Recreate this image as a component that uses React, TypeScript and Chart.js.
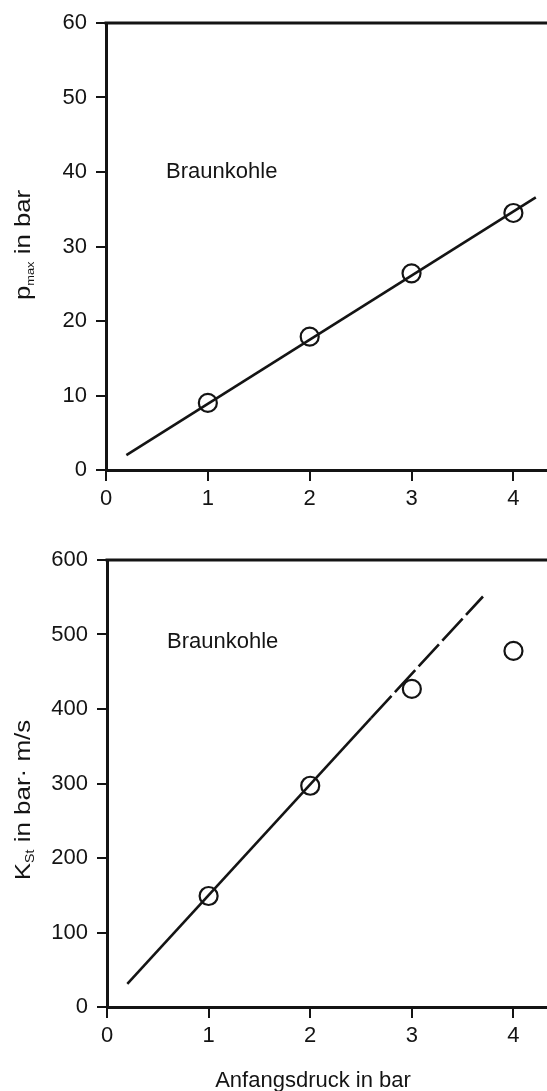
import React, { useEffect, useRef } from 'react';
import { Chart, registerables } from 'chart.js';

Chart.register(...registerables);

// ---------- data ----------
const xTickValues = [0, 1, 2, 3, 4];
const topYTickValues = [0, 10, 20, 30, 40, 50, 60];
const bottomYTickValues = [0, 100, 200, 300, 400, 500, 600];

const anfangsdruck = [1, 2, 3, 4];
const pMax = [9.0, 17.9, 26.4, 34.5];
const kSt = [149, 297, 427, 478];

const pFitX = [0.2, 4.22];
const pFitY = [2.0, 36.6];
const kFitSolidX = [0.2, 2.6];
const kFitSolidY = [31, 388];
const kFitDashedX = [2.6, 3.7];
const kFitDashedY = [388, 551];

const materialLabel = 'Braunkohle';
const xTitle = 'Anfangsdruck in bar';
const topYTitle = [
  { text: 'p', sub: false },
  { text: 'max', sub: true },
  { text: ' in bar', sub: false },
];
const bottomYTitle = [
  { text: 'K', sub: false },
  { text: 'St', sub: true },
  { text: ' in bar\u00B7 m/s', sub: false },
];

const INK = '#141414';
const FONT = '"Liberation Sans", Arial, Helvetica, sans-serif';

const zip = (xs: number[], ys: number[]) => xs.map((x, i) => ({ x, y: ys[i] }));

const extrasPlugin = {
  id: 'extras',
  afterDraw(chart: any, _args: any, opts: any) {
    const ctx = chart.ctx as CanvasRenderingContext2D;
    const { left, right, top } = chart.chartArea;
    const xs = chart.scales.x;
    const ys = chart.scales.y;
    ctx.save();
    // top frame line
    ctx.strokeStyle = INK;
    ctx.lineWidth = 3;
    ctx.beginPath();
    ctx.moveTo(left - 1.5, top);
    ctx.lineTo(right, top);
    ctx.stroke();

    ctx.fillStyle = INK;
    // material label
    if (opts.label) {
      ctx.font = `${opts.labelSize}px ${FONT}`;
      ctx.textAlign = 'left';
      ctx.textBaseline = 'middle';
      ctx.fillText(opts.label.text, xs.getPixelForValue(opts.label.x), ys.getPixelForValue(opts.label.y));
    }
    // y title with subscript, rotated
    if (opts.yTitle) {
      const mainFont = `${opts.titleSize}px ${FONT}`;
      const subFont = `${opts.subSize}px ${FONT}`;
      let total = 0;
      const widths = opts.yTitle.parts.map((p: any) => {
        ctx.font = p.sub ? subFont : mainFont;
        const w = ctx.measureText(p.text).width;
        total += w;
        return w;
      });
      ctx.translate(opts.yTitle.cx, opts.yTitle.cy);
      ctx.rotate(-Math.PI / 2);
      ctx.scale(opts.yTitle.stretch, 1);
      ctx.textAlign = 'left';
      ctx.textBaseline = 'alphabetic';
      let cur = -total / 2;
      opts.yTitle.parts.forEach((p: any, i: number) => {
        ctx.font = p.sub ? subFont : mainFont;
        ctx.fillText(p.text, cur, p.sub ? 8 + opts.subShift : 8);
        cur += widths[i];
      });
      ctx.setTransform(1, 0, 0, 1, 0, 0);
    }
    // x title
    if (opts.xTitle) {
      ctx.font = `${opts.titleSize}px ${FONT}`;
      ctx.textAlign = 'center';
      ctx.textBaseline = 'middle';
      ctx.fillText(opts.xTitle.text, opts.xTitle.cx, opts.xTitle.cy);
    }
    ctx.restore();
  },
};

function makeConfig(p: {
  yMax: number;
  yTicks: number[];
  yWidth: number;
  padTop: number;
  xHeight: number;
  xMax: number;
  datasets: any[];
  extras: any;
}) {
  return {
    type: 'scatter' as const,
    data: { datasets: p.datasets },
    plugins: [extrasPlugin],
    options: {
      animation: false,
      responsive: false,
      maintainAspectRatio: false,
      devicePixelRatio: 1,
      layout: { autoPadding: false, padding: { top: p.padTop, left: 0, right: 0, bottom: 0 } },
      plugins: {
        legend: { display: false },
        tooltip: { enabled: false },
        extras: p.extras,
      },
      scales: {
        x: {
          type: 'linear',
          min: 0,
          max: p.xMax,
          afterBuildTicks: (s: any) => {
            s.ticks = xTickValues.map((v) => ({ value: v }));
          },
          afterFit: (s: any) => {
            s.height = p.xHeight;
            s.paddingLeft = 0;
            s.paddingRight = 0;
          },
          border: { display: true, color: INK, width: 3 },
          grid: {
            drawOnChartArea: false,
            drawTicks: true,
            tickLength: 11,
            color: INK,
            lineWidth: 2,
          },
          ticks: {
            color: INK,
            font: { family: FONT, size: 22 },
            padding: 5,
            maxRotation: 0,
            autoSkip: false,
          },
        },
        y: {
          type: 'linear',
          min: 0,
          max: p.yMax,
          afterBuildTicks: (s: any) => {
            s.ticks = p.yTicks.map((v) => ({ value: v }));
          },
          afterFit: (s: any) => {
            s.width = p.yWidth;
          },
          border: { display: true, color: INK, width: 3 },
          grid: {
            drawOnChartArea: false,
            drawTicks: true,
            tickLength: 10,
            color: INK,
            lineWidth: 2,
          },
          ticks: {
            color: INK,
            font: { family: FONT, size: 22 },
            padding: 9,
            autoSkip: false,
          },
        },
      },
    },
  };
}

const circleStyle = {
  showLine: false,
  pointStyle: 'circle',
  pointRadius: 9,
  pointBorderWidth: 2.2,
  pointBackgroundColor: 'rgba(0,0,0,0)',
  pointBorderColor: INK,
  borderColor: INK,
  backgroundColor: 'rgba(0,0,0,0)',
};

const lineStyle = {
  showLine: true,
  pointRadius: 0,
  borderColor: INK,
  borderWidth: 2.6,
  backgroundColor: 'rgba(0,0,0,0)',
  fill: false,
};

function TopChart() {
  const ref = useRef<HTMLCanvasElement>(null);
  useEffect(() => {
    if (!ref.current) return;
    const chart = new Chart(
      ref.current,
      makeConfig({
        yMax: 60,
        yTicks: topYTickValues,
        yWidth: 106,
        padTop: 23,
        xHeight: 45,
        xMax: 4.33,
        datasets: [
          { ...lineStyle, data: zip(pFitX, pFitY) },
          { ...circleStyle, data: zip(anfangsdruck, pMax) },
        ],
        extras: {
          label: { text: materialLabel, x: 0.59, y: 40 },
          labelSize: 22,
          titleSize: 22,
          subSize: 11,
          subShift: 4,
          yTitle: { parts: topYTitle, cx: 22, cy: 245, stretch: 1.17 },
        },
      }) as any
    );
    return () => chart.destroy();
  }, []);
  return <canvas ref={ref} width={547} height={515} style={{ display: 'block' }} />;
}

function BottomChart() {
  const ref = useRef<HTMLCanvasElement>(null);
  useEffect(() => {
    if (!ref.current) return;
    const chart = new Chart(
      ref.current,
      makeConfig({
        yMax: 600,
        yTicks: bottomYTickValues,
        yWidth: 107,
        padTop: 45,
        xHeight: 84,
        xMax: 4.33,
        datasets: [
          { ...lineStyle, data: zip(kFitSolidX, kFitSolidY) },
          { ...lineStyle, borderDash: [30, 5], data: zip(kFitDashedX, kFitDashedY) },
          { ...circleStyle, data: zip(anfangsdruck, kSt) },
        ],
        extras: {
          label: { text: materialLabel, x: 0.59, y: 490 },
          labelSize: 22,
          titleSize: 22,
          subSize: 12,
          subShift: 4,
          yTitle: { parts: bottomYTitle, cx: 22, cy: 285, stretch: 1.18 },
          xTitle: { text: xTitle, cx: 313, cy: 566 },
        },
      }) as any
    );
    return () => chart.destroy();
  }, []);
  return <canvas ref={ref} width={547} height={576} style={{ display: 'block' }} />;
}

export default function App() {
  return (
    <div
      style={{
        position: 'absolute',
        left: 0,
        top: 0,
        width: 547,
        height: 1091,
        background: '#fff',
        overflow: 'hidden',
      }}
    >
      <TopChart />
      <BottomChart />
    </div>
  );
}
